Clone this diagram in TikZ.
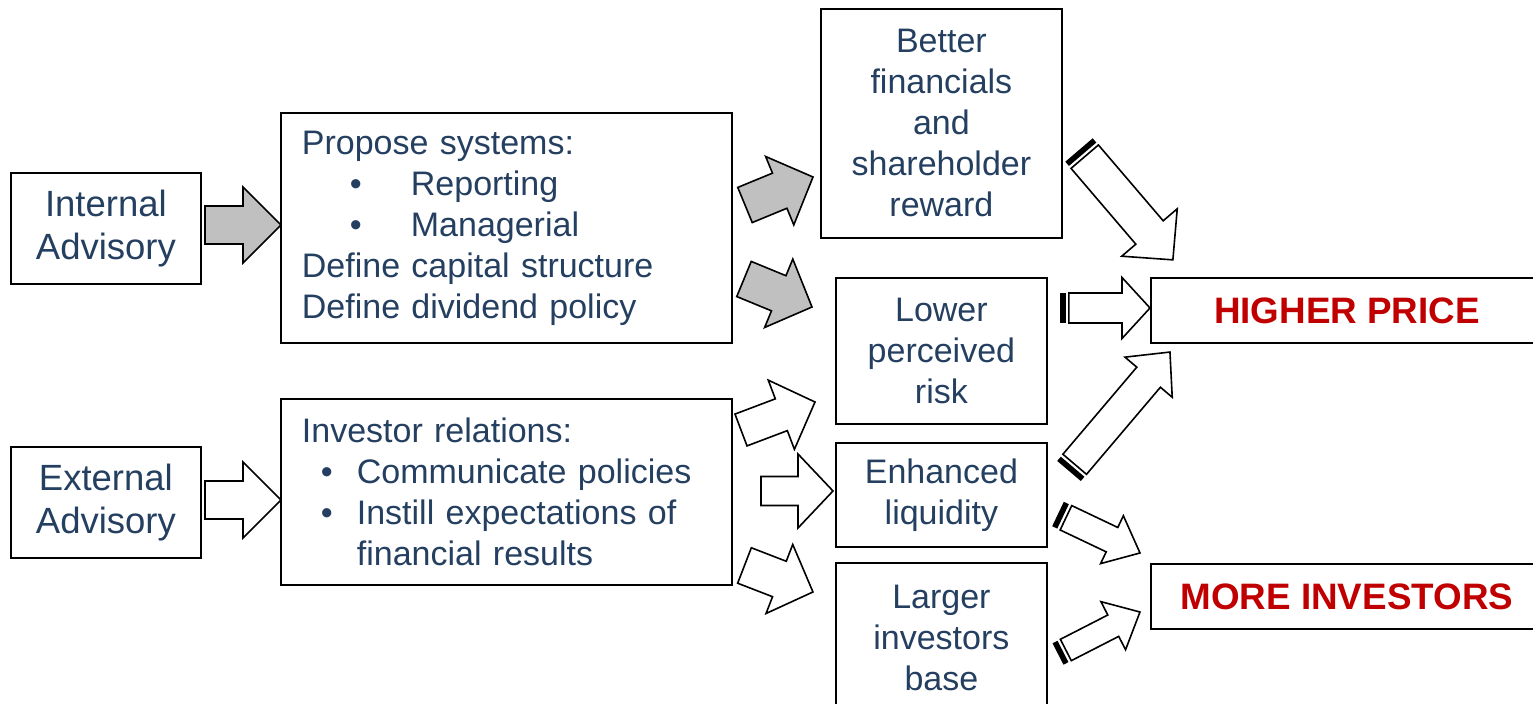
\documentclass[tikz,border=0pt]{standalone}
\usepackage{fontspec}
\setmainfont{Liberation Sans}
\usepackage{tikz}
\usetikzlibrary{calc}
\definecolor{cText}{HTML}{243F60}
\definecolor{cRed}{HTML}{C00000}
\definecolor{cGray}{HTML}{C0C0C0}
\tikzset{
  box/.style={draw, line width=0.9pt, align=center, inner sep=0pt,
              text=cText, font=\fontsize{17}{20.5}\selectfont},
  sidebox/.style={box, minimum width=95pt, minimum height=55.5pt,
              font=\fontsize{18.25}{21.5}\selectfont},
  listbox/.style={box, align=left, inner xsep=10.5pt, text width=204.5pt},
  midbox/.style={box, minimum width=105.5pt},
  goalbox/.style={box, minimum width=196pt, minimum height=32.5pt,
              text=cRed, font=\fontsize{18.4}{21}\selectfont\bfseries},
  blkline/.style={draw=black, line width=0.8pt, line join=miter},
  grayarr/.style={blkline, fill=cGray},
  whitearr/.style={blkline, fill=white},
}
% block arrow: [style]{tail}{tip}{shaft half}{head half}{head length}, sizes in pt
\newcommand{\blkarrow}[6][]{%
  \draw[blkline,#1] let \p1=#2, \p2=($#3-#2$), \n1={atan2(\y2,\x2)},
      \n2={veclen(\x2,\y2)} in [shift={(\p1)}, rotate=\n1]
    (0pt,#4pt) -- ({\n2-#6pt},#4pt) -- ({\n2-#6pt},#5pt) -- (\n2,0pt)
    -- ({\n2-#6pt},-#5pt) -- ({\n2-#6pt},-#4pt) -- (0pt,-#4pt) -- cycle;}
% same, with the black stripe at the tail
\newcommand{\strarrow}[6][]{%
  \fill let \p1=#2, \p2=($#3-#2$), \n1={atan2(\y2,\x2)} in [shift={(\p1)}, rotate=\n1]
    (0pt,#4pt) -- (2.8pt,#4pt) -- (2.8pt,-#4pt) -- (0pt,-#4pt) -- cycle;
  \coordinate (stail) at ($#2!4.4pt!#3$);
  \blkarrow[#1]{(stail)}{#3}{#4}{#5}{#6}}

\begin{document}
\begin{tikzpicture}[x=0.5pt, y=-0.5pt]
  \useasboundingbox (0,0) rectangle (1533,704);
  \clip (0,0) rectangle (1533,704);

  % boxes
  \node[sidebox, anchor=north west] (intadv) at (10,172) {Internal\\Advisory};
  \node[sidebox, anchor=north west] (extadv) at (10,446) {External\\Advisory};
  \node[listbox, anchor=north west, minimum height=115pt] (propose) at (280,112)
    {Propose systems:\\
     \hspace*{24pt}\makebox[30.5pt][l]{\textbullet}Reporting\\
     \hspace*{24pt}\makebox[30.5pt][l]{\textbullet}Managerial\\
     Define capital structure\\
     Define dividend policy};
  \node[listbox, anchor=north west, minimum height=93pt] (invrel) at (280,398)
    {Investor relations:\\
     \hspace*{9.5pt}\makebox[18pt][l]{\textbullet}Communicate policies\\
     \hspace*{9.5pt}\makebox[18pt][l]{\textbullet}Instill expectations of\\
     \hspace*{27.5pt}financial results};
  \node[box, anchor=north west, minimum width=120.5pt, minimum height=114.5pt] (betterfin)
    at (820,8) {Better\\financials\\and\\shareholder\\reward};
  \node[midbox, anchor=north west, minimum height=73pt] (lowrisk) at (835,277)
    {Lower\\perceived\\risk};
  \node[midbox, anchor=north west, minimum height=52pt] (liquid) at (835,442)
    {Enhanced\\liquidity};
  \node[midbox, anchor=north west, minimum height=75pt] (larger) at (835,562)
    {Larger\\investors\\base};
  \node[goalbox, anchor=north west] (hiprice) at (1150,277) {HIGHER PRICE};
  \node[goalbox, anchor=north west] (moreinv) at (1150,563) {MORE INVESTORS};

  % block arrows
  \blkarrow[grayarr]{(205,225)}{(281,225)}{9.5}{19}{19}
  \blkarrow[whitearr]{(205,500)}{(281,500)}{9.5}{19}{19}
  \blkarrow[grayarr]{(745,205)}{(813,177)}{9.5}{18.5}{18}
  \blkarrow[grayarr]{(744,279)}{(812,307)}{9.5}{18.5}{18}
  \blkarrow[whitearr]{(741,430)}{(815,402)}{8.5}{18.5}{18}
  \blkarrow[whitearr]{(761,491)}{(833,491)}{7.25}{18.5}{17.5}
  \blkarrow[whitearr]{(744.5,565.5)}{(813,592)}{9.5}{18.5}{18}

  % striped arrows
  \strarrow[whitearr]{(1079,150)}{(1173,260)}{9}{18.25}{18}
  \strarrow[whitearr]{(1060,308)}{(1150,308)}{7.5}{15.25}{14}
  \strarrow[whitearr]{(1069,471)}{(1170,352)}{7.75}{15.5}{16.5}
  \strarrow[whitearr]{(1058,514)}{(1140,553)}{6.75}{13.25}{15.5}
  \strarrow[whitearr]{(1058,654)}{(1140,612)}{6}{13.5}{15}
\end{tikzpicture}
\end{document}
